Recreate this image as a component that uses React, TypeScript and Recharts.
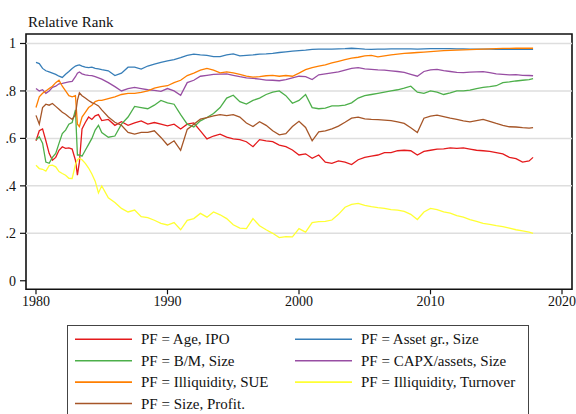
import { LineChart, Line, XAxis, YAxis, ReferenceLine, ReferenceArea } from 'recharts';

const serif = "'Liberation Serif', 'Times New Roman', serif";

const years = [
  1980, 1980.25, 1980.5, 1980.75, 1981, 1981.25, 1981.5, 1981.75, 1982, 1982.25, 1982.5, 1982.75,
  1983, 1983.15, 1983.3, 1983.5, 1983.75, 1984, 1984.25, 1984.5, 1984.75, 1985,
  1985.5, 1986, 1986.5, 1987, 1987.5, 1988, 1988.5, 1989, 1989.5,
  1990, 1990.5, 1991, 1991.5, 1992, 1992.5, 1993, 1993.5, 1994, 1994.5,
  1995, 1995.5, 1996, 1996.5, 1997, 1997.5, 1998, 1998.5, 1999, 1999.5,
  2000, 2000.5, 2001, 2001.5, 2002, 2002.5, 2003, 2003.5, 2004, 2004.5,
  2005, 2005.5, 2006, 2006.5, 2007, 2007.5, 2008, 2008.5, 2009, 2009.5,
  2010, 2010.5, 2011, 2011.5, 2012, 2012.5, 2013, 2013.5, 2014, 2014.5,
  2015, 2015.5, 2016, 2016.5, 2017, 2017.5, 2017.8,
];

const ageIpo = [
  0.59, 0.632, 0.64, 0.59, 0.537, 0.508, 0.52, 0.55, 0.565, 0.558, 0.56, 0.555,
  0.508, 0.445, 0.5, 0.64, 0.667, 0.69, 0.68, 0.695, 0.7, 0.675,
  0.68, 0.655, 0.67, 0.655, 0.665, 0.674, 0.66, 0.667, 0.66,
  0.653, 0.66, 0.64, 0.66, 0.665, 0.632, 0.598, 0.61, 0.618, 0.605,
  0.598, 0.595, 0.586, 0.565, 0.595, 0.59, 0.586, 0.572, 0.565, 0.551,
  0.53, 0.535, 0.516, 0.53, 0.5, 0.495, 0.505, 0.5, 0.49, 0.51,
  0.52, 0.525, 0.53, 0.54, 0.54, 0.548, 0.55, 0.548, 0.53, 0.545,
  0.55, 0.555, 0.556, 0.56, 0.558, 0.56, 0.555, 0.55, 0.548, 0.545,
  0.54, 0.535, 0.52, 0.515, 0.5, 0.505, 0.52,
];

const assetGr = [
  0.92, 0.915, 0.895, 0.885, 0.88, 0.875, 0.87, 0.862, 0.857, 0.87, 0.882, 0.895,
  0.905, 0.908, 0.91, 0.905, 0.9, 0.898, 0.9, 0.895, 0.893, 0.89,
  0.885, 0.865, 0.875, 0.9, 0.9, 0.892, 0.905, 0.913, 0.92,
  0.927, 0.932, 0.94, 0.95, 0.955, 0.952, 0.95, 0.945, 0.945, 0.952,
  0.956, 0.948, 0.95, 0.952, 0.955, 0.956, 0.958, 0.962, 0.965, 0.968,
  0.97, 0.972, 0.975, 0.976, 0.976, 0.976, 0.977, 0.978, 0.98, 0.978,
  0.976, 0.975, 0.976, 0.976, 0.977, 0.977, 0.977, 0.977, 0.976, 0.977,
  0.978, 0.978, 0.978, 0.978, 0.977, 0.977, 0.976, 0.976, 0.976, 0.976,
  0.975, 0.975, 0.975, 0.975, 0.975, 0.975, 0.975,
];

const bmSize = [
  0.593, 0.607, 0.58, 0.5, 0.495, 0.52, 0.537, 0.579, 0.62, 0.635, 0.66, 0.667,
  0.72, 0.53, 0.53, 0.525, 0.55, 0.575, 0.6, 0.635, 0.655, 0.625,
  0.605, 0.61, 0.66, 0.69, 0.735, 0.73, 0.725, 0.74, 0.76,
  0.75, 0.744, 0.7, 0.66, 0.648, 0.674, 0.688, 0.705, 0.73, 0.77,
  0.782, 0.755, 0.745, 0.76, 0.77, 0.785, 0.795, 0.8, 0.78, 0.748,
  0.76, 0.785, 0.73, 0.725, 0.728, 0.737, 0.737, 0.74, 0.75, 0.77,
  0.78, 0.785, 0.79, 0.795, 0.8, 0.805, 0.812, 0.82, 0.795, 0.79,
  0.8, 0.795, 0.785, 0.792, 0.8, 0.8, 0.803, 0.81, 0.815, 0.818,
  0.822, 0.835, 0.838, 0.842, 0.845, 0.848, 0.852,
];

const capxSize = [
  0.81, 0.8, 0.805, 0.79, 0.8, 0.815, 0.82, 0.83, 0.832, 0.835, 0.838, 0.84,
  0.86, 0.875, 0.88, 0.872, 0.868, 0.866, 0.865, 0.86, 0.855, 0.85,
  0.835, 0.818, 0.8, 0.81, 0.815, 0.81, 0.805, 0.802, 0.798,
  0.81, 0.8, 0.782, 0.835, 0.845, 0.862, 0.866, 0.87, 0.871, 0.872,
  0.866, 0.86, 0.855, 0.853, 0.85, 0.846, 0.845, 0.843, 0.848, 0.855,
  0.862, 0.86, 0.848, 0.868, 0.872, 0.876, 0.88, 0.888, 0.895, 0.898,
  0.893, 0.891, 0.889, 0.888, 0.885, 0.882, 0.878, 0.87, 0.862, 0.882,
  0.889, 0.891, 0.886, 0.882, 0.878, 0.877, 0.879, 0.88, 0.881, 0.877,
  0.872, 0.87, 0.868, 0.869, 0.866, 0.865, 0.864,
];

const illiqSue = [
  0.73, 0.775, 0.79, 0.8, 0.81, 0.82, 0.835, 0.845, 0.82, 0.8, 0.78, 0.775,
  0.78, 0.66, 0.65, 0.69, 0.71, 0.73, 0.74, 0.755, 0.76, 0.76,
  0.768, 0.775, 0.785, 0.79, 0.79, 0.794, 0.8, 0.812, 0.818,
  0.822, 0.835, 0.845, 0.865, 0.875, 0.888, 0.895, 0.888, 0.876, 0.88,
  0.876, 0.87, 0.862, 0.858, 0.86, 0.864, 0.866, 0.862, 0.865, 0.862,
  0.875, 0.89, 0.898, 0.905, 0.91, 0.918, 0.925, 0.932, 0.938, 0.942,
  0.948, 0.95, 0.944, 0.948, 0.952, 0.955, 0.958, 0.96, 0.962, 0.964,
  0.966, 0.968, 0.97, 0.971, 0.972, 0.973, 0.974, 0.975, 0.976, 0.977,
  0.978, 0.979, 0.979, 0.98, 0.98, 0.98, 0.98,
];

const illiqTurnover = [
  0.487, 0.473, 0.47, 0.462, 0.485, 0.487, 0.48, 0.46, 0.452, 0.445, 0.432, 0.431,
  0.49, 0.51, 0.516, 0.51, 0.495, 0.475, 0.45, 0.42, 0.37, 0.4,
  0.35, 0.33, 0.305, 0.29, 0.298, 0.27, 0.266, 0.255, 0.242,
  0.235, 0.245, 0.215, 0.255, 0.262, 0.284, 0.268, 0.29, 0.278, 0.262,
  0.236, 0.222, 0.22, 0.262, 0.232, 0.215, 0.2, 0.182, 0.186, 0.185,
  0.22, 0.205, 0.245, 0.249, 0.25, 0.256, 0.28, 0.31, 0.322, 0.326,
  0.318, 0.312, 0.308, 0.305, 0.3, 0.298, 0.292, 0.28, 0.258, 0.29,
  0.305, 0.3, 0.29, 0.285, 0.275, 0.268, 0.258, 0.25, 0.242, 0.238,
  0.232, 0.228, 0.222, 0.215, 0.21, 0.205, 0.2,
];

const sizeProfit = [
  0.697, 0.66, 0.73, 0.744, 0.74, 0.747, 0.735, 0.723, 0.71, 0.702, 0.69, 0.68,
  0.7, 0.76, 0.792, 0.78, 0.77, 0.76, 0.751, 0.745, 0.737, 0.72,
  0.69, 0.668, 0.655, 0.625, 0.618, 0.625, 0.625, 0.632, 0.604,
  0.572, 0.59, 0.55, 0.638, 0.66, 0.681, 0.688, 0.695, 0.7, 0.696,
  0.7, 0.69, 0.665, 0.65, 0.67, 0.655, 0.632, 0.615, 0.62, 0.65,
  0.672, 0.646, 0.59, 0.628, 0.632, 0.64, 0.652, 0.668, 0.685, 0.69,
  0.682, 0.68, 0.679, 0.677, 0.675, 0.67, 0.663, 0.645, 0.625, 0.685,
  0.694, 0.698, 0.692, 0.685, 0.68, 0.674, 0.67, 0.675, 0.68, 0.672,
  0.663, 0.655, 0.649, 0.648, 0.645, 0.643, 0.645,
];

const xTicks = [1980, 1990, 2000, 2010, 2020];
const yTicks = [0, 0.2, 0.4, 0.6, 0.8, 1];
const gridValues = [0.2, 0.4, 0.6, 0.8, 1];

// legend order: left column then right column
const series = [
  { key: 'ageIpo', name: 'PF = Age, IPO', color: '#e41a1c', values: ageIpo, col: 0, row: 0 },
  { key: 'assetGr', name: 'PF = Asset gr., Size', color: '#377eb8', values: assetGr, col: 1, row: 0 },
  { key: 'bmSize', name: 'PF = B/M, Size', color: '#4daf4a', values: bmSize, col: 0, row: 1 },
  { key: 'capxSize', name: 'PF = CAPX/assets, Size', color: '#984ea3', values: capxSize, col: 1, row: 1 },
  { key: 'illiqSue', name: 'PF = Illiquidity, SUE', color: '#ff7f00', values: illiqSue, col: 0, row: 2 },
  { key: 'illiqTurnover', name: 'PF = Illiquidity, Turnover', color: '#ffff33', values: illiqTurnover, col: 1, row: 2 },
  { key: 'sizeProfit', name: 'PF = Size, Profit.', color: '#a65628', values: sizeProfit, col: 0, row: 3 },
];

const data = years.map((t, i) => {
  const row: Record<string, number> = { t };
  series.forEach(s => { row[s.key] = s.values[i]; });
  return row;
});

const X0 = 1979.24, X1 = 2020.76, Y0 = -0.036, Y1 = 1.04;

const fmtY = (v: number) => (v === 0 ? '0' : v === 1 ? '1' : String(v).replace(/^0/, ''));

function Legend() {
  return (
    <svg width={462} height={100} style={{ position: 'absolute', left: 67, top: 325 }}>
      <rect x={0.5} y={0.5} width={461} height={99} fill="#fff" stroke="#444" strokeWidth={1} />
      {series.map(s => {
        const cy = 14.3 + s.row * 21.4;
        const lx = s.col === 0 ? 8 : 228;
        return (
          <g key={s.key}>
            <line x1={lx} x2={lx + 57} y1={cy} y2={cy} stroke={s.color} strokeWidth={1.6} />
            <text x={lx + 66} y={cy + 5} fontFamily={serif} fontSize={15} fill="#111">{s.name}</text>
          </g>
        );
      })}
    </svg>
  );
}

export default function App() {
  return (
    <div style={{ position: 'absolute', left: 0, top: 0, width: 576, height: 414, overflow: 'hidden', background: '#fff' }}>
      <LineChart width={576} height={414} data={data} margin={{ top: 34, right: 4, bottom: 94.7, left: 0 }}>
        {gridValues.map(v => (
          <ReferenceLine key={v} y={v} stroke="#dedede" strokeWidth={1.5} />
        ))}
        <XAxis
          dataKey="t"
          type="number"
          domain={[X0, X1]}
          allowDataOverflow
          ticks={xTicks}
          interval={0}
          height={30}
          axisLine={false}
          tickSize={5}
          tickMargin={2}
          tickLine={{ stroke: '#111', strokeWidth: 1.2 }}
          tick={{ fontFamily: serif, fontSize: 14, fill: '#111' }}
        />
        <YAxis
          type="number"
          domain={[Y0, Y1]}
          allowDataOverflow
          ticks={yTicks}
          interval={0}
          width={26}
          axisLine={false}
          tickSize={6}
          tickMargin={4}
          tickFormatter={fmtY}
          tickLine={{ stroke: '#111', strokeWidth: 1.2 }}
          tick={{ fontFamily: serif, fontSize: 14, fill: '#111' }}
        />
        {series.map(s => (
          <Line
            key={s.key}
            dataKey={s.key}
            name={s.name}
            type="linear"
            stroke={s.color}
            strokeWidth={1.3}
            dot={false}
            isAnimationActive={false}
          />
        ))}
        <ReferenceArea x1={X0} x2={X1} y1={Y0} y2={Y1} fill="none" fillOpacity={0} stroke="#111" strokeWidth={1.6} />
      </LineChart>
      <svg width={200} height={34} style={{ position: 'absolute', left: 0, top: 0 }}>
        <text x={28} y={26.7} fontFamily={serif} fontSize={15} fill="#111">Relative Rank</text>
      </svg>
      <Legend />
    </div>
  );
}
